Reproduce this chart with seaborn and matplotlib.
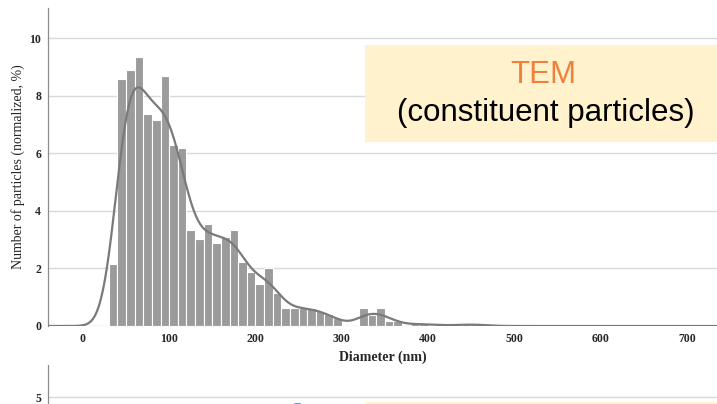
import numpy as np
import pandas as pd
import matplotlib
matplotlib.use("Agg")
import matplotlib.pyplot as plt
from matplotlib.patches import Rectangle
import seaborn as sns

# ---- data ----
bin_edges = list(range(30, 480, 10))
bin_heights = [2.15, 8.57, 8.90, 9.33, 7.36, 7.15, 8.67, 6.28, 6.17,
               3.33, 3.01, 3.54, 2.89, 3.10, 3.33, 2.23, 1.89, 1.46, 2.00, 1.13,
               0.62, 0.62, 0.62, 0.62, 0.52, 0.40, 0.27, 0.0, 0.0,
               0.62, 0.38, 0.62, 0.17, 0.17, 0.0, 0.08, 0.08, 0.04, 0.04, 0.0,
               0.04, 0.06, 0.06, 0.04]
x_ticks = [0, 100, 200, 300, 400, 500, 600, 700]
y_ticks = [0, 2, 4, 6, 8, 10]
title_main = "TEM"
title_sub = "(constituent particles)"
x_label = "Diameter (nm)"
y_label = "Number of particles (normalized, %)"

# fragment of the next chart visible at the bottom
bottom_x = [248]
bottom_vals = [4.33]
bottom_ticks = [5]

centers = [e + 5 for e in bin_edges[:-1]]
df = pd.DataFrame({"diameter": centers, "pct": bin_heights})

sns.set_style("white")
fig = plt.figure(figsize=(7.17, 4.04), dpi=100)
W, H = 717, 404
ax = fig.add_axes([48 / W, 1 - 326 / H, 1 - 48 / W, (326 - 8) / H])

sns.histplot(data=df, x="diameter", weights="pct", bins=bin_edges,
             stat="count", kde=True, color="#9b9b9b", alpha=1.0,
             edgecolor="white", linewidth=0.8,
             kde_kws=dict(bw_adjust=0.33, cut=60, gridsize=1200),
             line_kws=dict(linewidth=1.6), ax=ax, zorder=2)
for ln in ax.lines:
    ln.set_color("#7a7a7a")
    ln.set_zorder(3)

ax.set_xlim(-40.5, 735)
ax.set_ylim(0, 11.05)
ax.set_xticks(x_ticks)
ax.set_yticks(y_ticks)
ax.set_xticklabels([str(t) for t in x_ticks], fontfamily="Liberation Serif",
                   fontweight="bold", fontsize=8.5)
ax.set_yticklabels([str(t) for t in y_ticks], fontfamily="Liberation Serif",
                   fontweight="bold", fontsize=8.5)
ax.tick_params(axis="both", length=0, pad=5)
ax.grid(axis="y", color="#d9d9d9", linewidth=1.0, zorder=0)
ax.set_axisbelow(True)
for s in ["top", "right", "bottom"]:
    ax.spines[s].set_visible(False)
ax.spines["left"].set_color("#8c8c8c")
ax.spines["left"].set_linewidth(0.9)
ax.set_xlabel(x_label, fontfamily="Liberation Serif", fontweight="bold",
              fontsize=10, labelpad=4)
ax.set_ylabel(y_label, fontfamily="Liberation Serif", fontsize=10, labelpad=3)

# beige label box
fig.patches.append(Rectangle((365 / W, 1 - 141.7 / H), 1 - 365 / W, (141.7 - 45) / H,
                             transform=fig.transFigure, facecolor="#FFF2CC",
                             edgecolor="none", zorder=5))
fig.text(543 / W, 1 - 75 / H, title_main, color="#F0803A", fontsize=22.5,
         fontfamily="Liberation Sans", ha="center", va="center", zorder=6)
fig.text(546 / W, 1 - 113 / H, title_sub, color="black", fontsize=22.5,
         fontfamily="Liberation Sans", ha="center", va="center", zorder=6)

# bottom fragment of the next chart
ax2 = fig.add_axes([48 / W, 0, 1 - 48 / W, 39 / H])
ax2.bar(bottom_x, bottom_vals, width=10, color="#4F86D8", zorder=2)
ax2.set_xlim(-40.5, 735)
ax2.set_ylim(4, 9.6)
ax2.set_yticks(bottom_ticks)
ax2.set_yticklabels([str(t) for t in bottom_ticks], fontfamily="Liberation Serif",
                    fontweight="bold", fontsize=8.5)
ax2.set_xticks([])
ax2.tick_params(axis="y", length=0, pad=5)
ax2.grid(axis="y", color="#d9d9d9", linewidth=1.0, zorder=0)
ax2.set_axisbelow(True)
for s in ["top", "right", "bottom"]:
    ax2.spines[s].set_visible(False)
ax2.spines["left"].set_color("#8c8c8c")
ax2.spines["left"].set_linewidth(0.9)
fig.patches.append(Rectangle((366 / W, 0), 1 - 366 / W, 2.3 / H,
                             transform=fig.transFigure, facecolor="#FFF2CC",
                             edgecolor="none", zorder=5))

fig.savefig("out.png", dpi=100)
